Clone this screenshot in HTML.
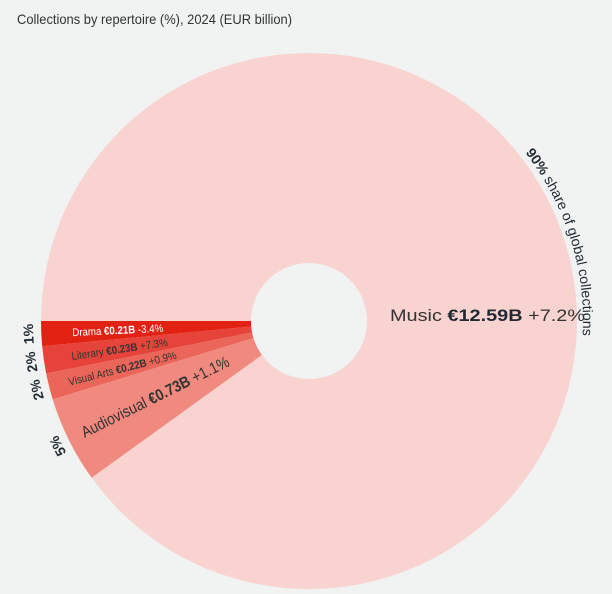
<!DOCTYPE html>
<html><head><meta charset="utf-8"><style>
html,body{margin:0;padding:0;background:#f1f3f3;}
svg{display:block;font-family:"Liberation Sans",sans-serif;}
</style></head><body>
<svg width="612" height="594" viewBox="0 0 612 594">
<rect width="612" height="594" fill="#f1f3f3"/>
<text x="17" y="24" font-size="14" fill="#333" textLength="275" lengthAdjust="spacingAndGlyphs">Collections by repertoire (%), 2024 (EUR billion)</text>
<circle cx="309" cy="321" r="268" fill="#f9d3d0"/>
<path d="M41,321 A268,268 0 0 0 42.19,346.22 L251.26,326.46 A58,58 0 0 1 251,321 Z" fill="#e12212"/>
<path d="M42.19,346.22 A268,268 0 0 0 46.20,373.51 L252.12,332.37 A58,58 0 0 1 251.26,326.46 Z" fill="#e6443a"/>
<path d="M46.20,373.51 A268,268 0 0 0 52.71,399.36 L253.53,337.96 A58,58 0 0 1 252.12,332.37 Z" fill="#eb6559"/>
<path d="M52.71,399.36 A268,268 0 0 0 91.64,477.77 L261.96,354.93 A58,58 0 0 1 253.53,337.96 Z" fill="#f08a7f"/>
<circle cx="309" cy="321" r="58" fill="#f1f3f3"/>
<defs>
<path id="lp" d="M309,597 A276,276 0 0 1 309,45"/>
<path id="rp" d="M309,47 A274,274 0 0 1 309,595"/>
</defs>
<g font-size="14" font-weight="bold" fill="#1f2a33" text-anchor="middle">
<text><textPath href="#lp" startOffset="420.5">1%</textPath></text>
<text><textPath href="#lp" startOffset="393">2%</textPath></text>
<text><textPath href="#lp" startOffset="365">2%</textPath></text>
<text><textPath href="#lp" startOffset="306">5%</textPath></text>
</g>
<text font-size="14" fill="#1f2a33"><textPath href="#rp" startOffset="249" textLength="196" lengthAdjust="spacingAndGlyphs"><tspan font-weight="bold">90%</tspan> share of global collections</textPath></text>
<g transform="translate(309,321) rotate(-2.7)"><text x="-237" y="4" font-size="11" fill="#fff" textLength="91" lengthAdjust="spacingAndGlyphs">Drama <tspan font-weight="bold">€0.21B</tspan> -3.4%</text></g>
<g transform="translate(309,321) rotate(-8.4)"><text x="-240" y="4" font-size="11" fill="#333" textLength="97" lengthAdjust="spacingAndGlyphs">Literary <tspan font-weight="bold">€0.23B</tspan> +7.3%</text></g>
<g transform="translate(309,321) rotate(-14.2)"><text x="-248" y="4" font-size="11" fill="#333" textLength="111" lengthAdjust="spacingAndGlyphs">Visual Arts <tspan font-weight="bold">€0.22B</tspan> +0.9%</text></g>
<g transform="translate(309,321) rotate(-26.4)"><text x="-253" y="5" font-size="16" fill="#333" textLength="163" lengthAdjust="spacingAndGlyphs">Audiovisual <tspan font-weight="bold">€0.73B</tspan> +1.1%</text></g>
<text x="390" y="321" font-size="17" fill="#333" textLength="195" lengthAdjust="spacingAndGlyphs">Music <tspan font-weight="bold" fill="#1f2a33">€12.59B</tspan> +7.2%</text>
</svg>
</body></html>
